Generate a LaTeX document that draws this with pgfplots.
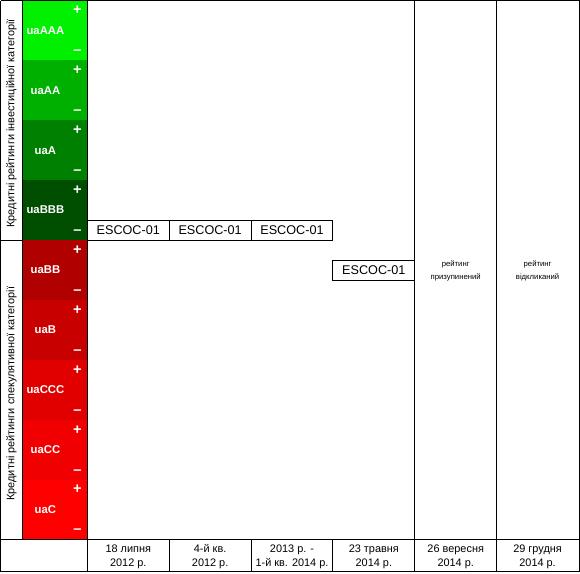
\documentclass[border=0pt]{standalone}
\usepackage{pgfplots}
\pgfplotsset{compat=1.18}
\usepackage{fontspec}
\setmainfont{Liberation Sans}

% rating scale colours
\definecolor{rAAA}{RGB}{0,240,0}
\definecolor{rAA}{RGB}{0,176,0}
\definecolor{rA}{RGB}{0,128,0}
\definecolor{rBBB}{RGB}{0,78,0}
\definecolor{rBB}{RGB}{176,0,0}
\definecolor{rB}{RGB}{200,0,0}
\definecolor{rCCC}{RGB}{224,0,0}
\definecolor{rCC}{RGB}{240,0,0}
\definecolor{rC}{RGB}{255,0,0}

\begin{document}
\begin{tikzpicture}
\begin{axis}[
    scale only axis,
    width=435pt, height=429pt,
    xmin=0, xmax=580, ymin=0, ymax=572,
    y dir=reverse,
    hide axis, clip=false,
    every axis plot/.append style={line width=0.75pt},
    lbl/.style={draw=none, nodes near coords, point meta=explicit symbolic,
        nodes near coords style={anchor=center, text=white, inner sep=0pt}},
]
\path (axis cs:0,0) rectangle (axis cs:580,572);

% rating bands (x 22..87, 60 px per grade)
\addplot[fill=rAAA, draw=none] coordinates {(22,0) (87,0) (87,60) (22,60)};
\addplot[fill=rAA,  draw=none] coordinates {(22,60) (87,60) (87,120) (22,120)};
\addplot[fill=rA,   draw=none] coordinates {(22,120) (87,120) (87,180) (22,180)};
\addplot[fill=rBBB, draw=none] coordinates {(22,180) (87,180) (87,240) (22,240)};
\addplot[fill=rBB,  draw=none] coordinates {(22,240) (87,240) (87,300) (22,300)};
\addplot[fill=rB,   draw=none] coordinates {(22,300) (87,300) (87,360) (22,360)};
\addplot[fill=rCCC, draw=none] coordinates {(22,360) (87,360) (87,420) (22,420)};
\addplot[fill=rCC,  draw=none] coordinates {(22,420) (87,420) (87,480) (22,480)};
\addplot[fill=rC,   draw=none] coordinates {(22,480) (87,480) (87,540) (22,540)};

% grade names
\addplot[lbl, nodes near coords style={font=\bfseries\fontsize{8.5}{10}\selectfont}]
  table[meta=label] {
x y label
45 30 uaAAA
45 90 uaAA
45 150 uaA
45 210 uaBBB
45 270 uaBB
45 330 uaB
45 390 uaCCC
45 450 uaCC
45 510 uaC
};

% plus / minus notches
\addplot[lbl, nodes near coords style={font=\bfseries\fontsize{11}{11}\selectfont}]
  table[meta=label] {
x y label
77 10 +
77 70 +
77 130 +
77 190 +
77 250 +
77 310 +
77 370 +
77 430 +
77 490 +
};
\addplot[lbl, nodes near coords style={font=\bfseries\fontsize{11}{11}\selectfont}]
  table[meta=label] {
x y label
77 52 --
77 112 --
77 172 --
77 232 --
77 292 --
77 352 --
77 412 --
77 472 --
77 532 --
};

% grid lines
\addplot[black] coordinates {(0.5,0.5) (579.5,0.5) (579.5,571.5) (0.5,571.5) (0.5,0.5)};
\addplot[black] coordinates {(22,0) (22,540)};
\addplot[black] coordinates {(87,0) (87,572)};
\addplot[black] coordinates {(415,0) (415,572)};
\addplot[black] coordinates {(497,0) (497,572)};
\addplot[black] coordinates {(169,540) (169,572)};
\addplot[black] coordinates {(251,540) (251,572)};
\addplot[black] coordinates {(333,540) (333,572)};
\addplot[black] coordinates {(0,540) (580,540)};
\addplot[black] coordinates {(0,240) (22,240)};

% ESCOC-01 rating boxes
\addplot[black, fill=white] coordinates {(87,220) (169,220) (169,240) (87,240) (87,220)};
\addplot[black, fill=white] coordinates {(169,220) (251,220) (251,240) (169,240) (169,220)};
\addplot[black, fill=white] coordinates {(251,220) (333,220) (333,240) (251,240) (251,220)};
\addplot[black, fill=white] coordinates {(333,260) (415,260) (415,280) (333,280) (333,260)};
\addplot[draw=none, nodes near coords, point meta=explicit symbolic,
    nodes near coords style={anchor=center, inner sep=0pt, font=\fontsize{9.5}{11}\selectfont}]
  table[meta=label] {
x y label
128 230 ESCOC-01
210 230 ESCOC-01
292 230 ESCOC-01
374 270 ESCOC-01
};

% category labels
\node[rotate=90, font=\fontsize{8.2}{9}\selectfont] at (axis cs:11,123) {Кредитні рейтинги інвестиційної категорії};
\node[rotate=90, font=\fontsize{8.2}{9}\selectfont] at (axis cs:11,394) {Кредитні рейтинги спекулятивної категорії};

% status notes
\node[align=center, font=\fontsize{5.8}{9.5}\selectfont] at (axis cs:456,271) {рейтинг\\призупинений};
\node[align=center, font=\fontsize{5.8}{9.5}\selectfont] at (axis cs:538,271) {рейтинг\\відкликаний};

% dates
\begin{scope}[every node/.style={align=center, font=\fontsize{8.2}{10.5}\selectfont}]
\node at (axis cs:128,557) {18 липня\\2012 р.};
\node at (axis cs:210,557) {4-й кв.\\2012 р.};
\node at (axis cs:292,557) {2013 р. -\\1-й кв. 2014 р.};
\node at (axis cs:374,557) {23 травня\\2014 р.};
\node at (axis cs:456,557) {26 вересня\\2014 р.};
\node at (axis cs:538,557) {29 грудня\\2014 р.};
\end{scope}
\end{axis}
\end{tikzpicture}
\end{document}
